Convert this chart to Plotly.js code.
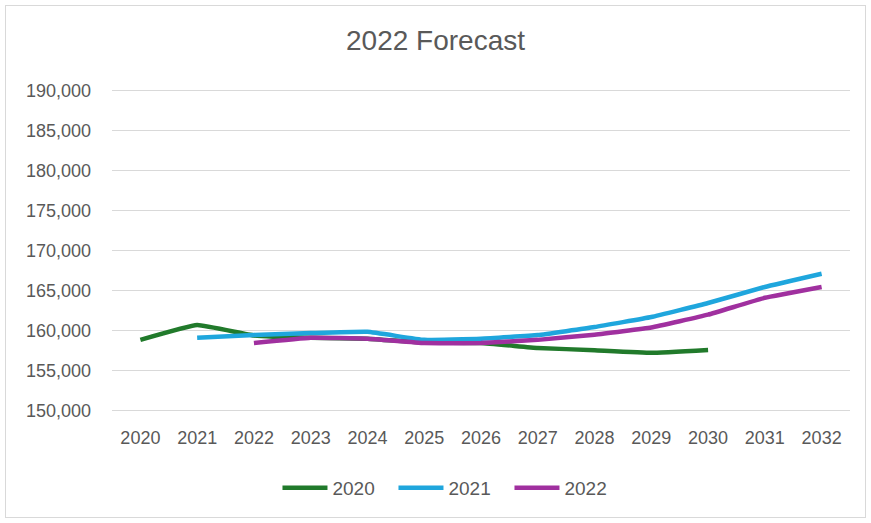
<!DOCTYPE html>
<html>
<head>
<meta charset="utf-8">
<script src="https://cdn.plot.ly/plotly-3.0.1.min.js"></script>
<style>
  html, body { margin: 0; padding: 0; background: #fff; }
  #wrap { position: relative; width: 871px; height: 523px; }
  #chart { width: 871px; height: 523px; }
  #frame { position: absolute; left: 5px; top: 5px; width: 859px; height: 511px; border: 1px solid #d9d9d9; pointer-events: none; }
</style>
</head>
<body>
<div id="wrap">
  <div id="chart"></div>
  <div id="frame"></div>
</div>
<script>
const years = ["2020","2021","2022","2023","2024","2025","2026","2027","2028","2029","2030","2031","2032"];
const series2020 = [158850, 160700, 159400, 159100, 159000, 158500, 158450, 157850, 157550, 157230, 157600, null, null];
const series2021 = [null, 159100, 159470, 159700, 159850, 158850, 159000, 159450, 160450, 161700, 163450, 165450, 167100];
const series2022 = [null, null, 158450, 159100, 159000, 158450, 158450, 158850, 159500, 160400, 162000, 164100, 165450];
const seriesNames = ["2020", "2021", "2022"];
const seriesColors = ["#217a2b", "#1fa6dd", "#a0309f"];

const allSeries = [series2020, series2021, series2022];
const traces = allSeries.map((vals, i) => ({
  type: "scatter",
  mode: "lines",
  x: years,
  y: vals,
  name: seriesNames[i],
  line: { color: seriesColors[i], width: 4.5, shape: "spline", smoothing: 0.3 },
  connectgaps: false,
  hoverinfo: "x+y+name"
}));

const layout = {
  width: 871,
  height: 523,
  margin: { l: 112, r: 21, t: 89, b: 111 },
  paper_bgcolor: "#ffffff",
  plot_bgcolor: "#ffffff",
  font: { family: "Liberation Sans, Arial, sans-serif", color: "#595959", size: 18 },
  title: {
    text: "2022 Forecast",
    font: { size: 28, color: "#595959" },
    x: 0.5, xanchor: "center",
    y: 1 - 40 / 523, yanchor: "middle"
  },
  xaxis: {
    type: "category",
    range: [-0.5, 12.5],
    showgrid: false,
    zeroline: false,
    showline: false,
    ticks: "",
    ticklabelstandoff: 13,
    tickfont: { size: 18, color: "#595959" },
    fixedrange: true
  },
  yaxis: {
    range: [149850, 190150],
    dtick: 5000,
    tick0: 150000,
    tickformat: ",d",
    showgrid: true,
    gridcolor: "#d9d9d9",
    gridwidth: 1.3,
    zeroline: false,
    showline: false,
    ticks: "",
    ticklabelstandoff: 20,
    tickfont: { size: 18, color: "#595959" },
    fixedrange: true
  },
  showlegend: true,
  legend: {
    orientation: "h",
    x: 0.46, xanchor: "center",
    y: -(488 - 412) / 323, yanchor: "middle",
    font: { size: 19, color: "#595959" },
    itemwidth: 45,
    entrywidth: 56,
    tracegroupgap: 0
  }
};

Plotly.newPlot("chart", traces, layout, { displayModeBar: false, staticPlot: true });
</script>
</body>
</html>
